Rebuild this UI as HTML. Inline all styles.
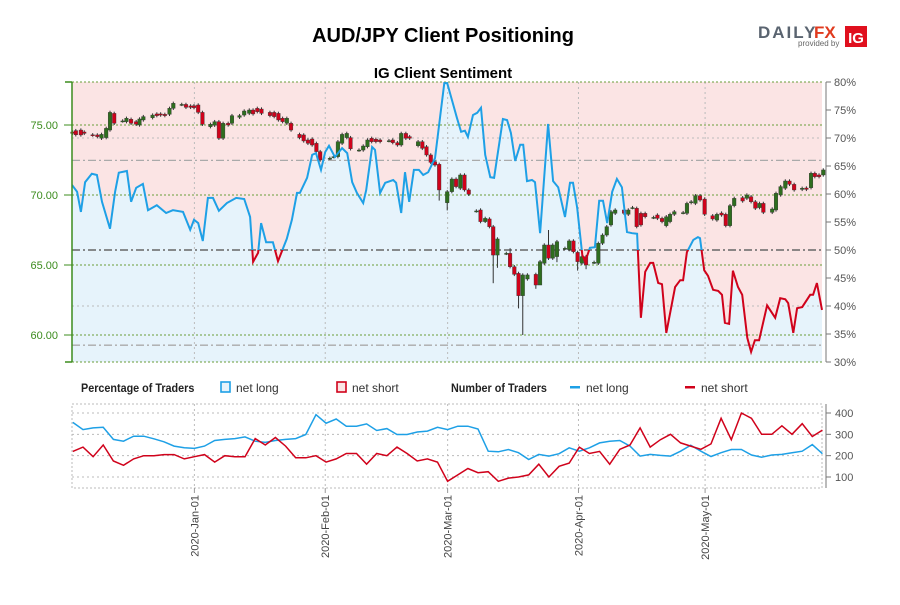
<!DOCTYPE html>
<html><head><meta charset="utf-8"><style>
body{margin:0;background:#fff;width:900px;height:600px;overflow:hidden;font-family:"Liberation Sans",sans-serif}
svg text{font-family:"Liberation Sans",sans-serif}
</style></head><body>
<svg id="c" width="900" height="600" xmlns="http://www.w3.org/2000/svg">
<text x="443" y="42" text-anchor="middle" font-size="20" font-weight="bold">AUD/JPY Client Positioning</text>
<text x="443" y="78" text-anchor="middle" font-size="15" font-weight="bold">IG Client Sentiment</text>
<g>
<text x="758" y="38" font-size="17" font-weight="bold" fill="#5a6470" letter-spacing="2">DAILY</text>
<text x="814" y="38" font-size="17" font-weight="bold" fill="#e03a1e">FX</text>
<text x="798" y="46" font-size="8" fill="#666">provided by</text>
<rect x="845" y="26" width="22" height="21" fill="#e0101e"/>
<text x="856" y="43" text-anchor="middle" font-size="15" font-weight="bold" fill="#fff">IG</text>
</g>
<g id="main"></g>
<g id="low"></g>
</svg>
<script>
// ---- data ----
const monthLabels=["2020-Jan-01","2020-Feb-01","2020-Mar-01","2020-Apr-01","2020-May-01"];
const monthDays=[29,60,89,120,150];
const sentDays=[0,1.2,2.1,3.1,4.7,5.9,7.1,9,10.2,11.1,13,14,15.2,16.8,18,20.1,22.3,23.9,26.3,28,28.9,29.9,31,32.2,33.4,34.8,36.7,38.9,40.8,42.2,42.9,44.1,44.8,46,47.6,48.8,50.9,52.1,53.3,54,55.7,56.9,57.8,59,60,60.9,62.3,64,65.2,66.4,67.5,69,69.7,71.1,71.8,73,74.2,76.1,76.8,78,78.9,79.9,81,82.2,83.2,84.4,86,87.2,88.2,88.9,90,91.2,92.2,93.1,93.8,95,96,96.9,97.9,99.1,100,102.1,103.1,104,105,106.2,106.9,107.8,109,109.7,110.9,112.8,114,115.2,116.8,118,118.7,119.7,120.9,121.6,122.7,123.9,124.9,125.8,126.8,128,129.1,130.3,131.5,132.7,133.9,134.8,135.8,137,137.7,138.9,139.8,140.8,142.9,144.1,144.8,145.7,147.2,148.3,148.8,149.8,150.7,151.9,153.1,154,154.7,155.7,156.6,157.8,158.8,160,160.9,161.8,162.8,164.7,166.6,167.8,169,169.7,170.9,171.8,173,174.9,175.6,176.5,177.7];
const sentLong=[61.6,60.4,56.8,62.1,63.6,63.4,58.6,53.8,60.4,63.8,64.1,58.6,61.1,61.8,57.1,58,56.6,57.1,56.8,53.6,55.4,54.8,51.6,59.3,59.3,57,58.4,59.3,59.1,55.9,47.9,49.5,54.8,51.4,51.4,48,52,55.4,60.2,60.2,62.9,67,67.3,64.3,67.5,68.6,66.6,68.2,67.3,62.1,60.2,58.4,60.7,68.4,67.9,60.2,62,62.5,62,56.6,63.9,58.6,64.3,64.3,63.4,63.9,66.4,73.6,79.8,79.8,76.8,73.6,71.1,71.3,70.2,74.1,74.5,75.4,67,63,62.9,73.4,73.2,70.9,65.9,68.8,68.8,62.3,62.5,62.1,53,72.5,62.3,61.2,55.9,62,62,57.5,49.1,47.9,50.4,50.5,58.8,58.8,54.8,60.4,62.7,61.2,53.2,53,52.9,37.9,46.1,47.7,47.7,44.1,43.9,35.2,43.4,44.6,44.6,49.6,51.8,52.3,52.1,46.4,45.4,42.9,42.7,42,37,36.8,46.3,43.4,42,34.3,31.8,33.9,33.9,40.1,37.9,41.4,41.2,40.5,35.2,39.6,39.8,42,42,44.1,39.3];
const candleDays=[0.1,0.9,2.1,2.9,4.9,6,7,8.1,9,10,12,12.9,14,15.2,16,16.9,19.1,20.1,21,22,23.1,24,26,27,28.1,28.9,29.9,30.9,32.8,33.8,34.8,35.8,37,37.9,39.7,40.8,42,42.9,43.9,44.9,46.9,47.9,48.9,49.9,50.9,51.9,53.9,54.9,55.9,56.9,57.9,58.8,61.1,62,63,64,65.1,66,68,69,70,71,72,73,75.1,76,77.1,78,79.1,80,82,83,84,85,86,87,88.9,90,91,92,93,94,95.8,96.8,97.9,98.9,99.8,100.8,102.9,103.8,104.8,105.8,106.8,107.9,109.9,110.9,111.9,112.9,113.9,114.9,116.8,117.8,118.8,119.8,120.8,121.8,123.7,124.7,125.7,126.7,127.7,128.7,130.8,131.8,132.8,133.8,134.8,135.8,137.8,138.7,139.8,140.8,141.7,142.7,144.8,145.7,146.7,147.7,148.8,149.9,151.8,152.8,153.9,154.9,155.9,156.9,158.9,159.9,160.9,161.9,162.9,163.8,165.9,166.8,167.9,169,170,171.1,173,174,175.1,176,177,178];
const candleOpen=[74.5,74.6,74.64,74.5,74.3,74.29,74.05,74.1,74.64,75.83,75.29,75.24,75.41,75.24,75,75.36,75.52,75.79,75.79,75.76,75.76,76.19,76.47,76.47,76.36,76.38,76.43,75.9,74.88,74.98,75.24,74.05,75.12,75.12,75.55,75.71,75.83,76.07,76.19,76.14,75.9,75.9,75.83,75.48,75.12,75.12,74.33,74.29,73.93,74,73.69,73.1,72.62,72.74,72.74,73.69,74.1,74.1,73.21,73.21,73.45,74.05,73.98,73.93,73.88,73.93,73.74,73.57,74.4,74.17,73.52,73.81,73.45,72.86,72.38,72.19,69.45,70.24,71.14,70.48,71.43,70.36,68.86,68.93,68.1,68.29,67.74,65.71,65.83,65.83,64.88,64.4,62.81,64,64.33,63.57,65.12,66.43,65.48,65.6,66.19,66.1,66.72,65.9,65.12,65.6,65.19,65.12,66.55,67.14,67.86,68.69,68.93,68.62,69.1,69.05,68.69,68.69,68.4,68.57,68.33,67.81,68.1,68.62,68.74,68.69,69.45,69.4,69.95,69.71,68.52,68.21,68.71,68.62,67.81,69.24,69.81,69.76,69.88,69.52,69.1,69.4,68.76,68.93,70,70.48,71,70.76,70.4,70.5,70.52,71.55,71.43,71.43];
const candleClose=[74.4,74.3,74.29,74.4,74.28,74.17,74.33,74.76,75.9,75.12,75.29,75.48,75.12,75.05,75.43,75.6,75.71,75.67,75.71,75.67,76.19,76.55,76.47,76.26,76.26,76.24,75.9,75.05,75.05,75.24,74.05,75.12,75,75.67,75.67,76,76.07,75.79,75.95,75.83,75.67,75.6,75.36,75.24,75.48,74.64,74.1,73.86,73.69,73.57,73.1,72.5,72.62,72.74,73.81,74.33,74.4,73.3,73.21,73.5,73.93,73.81,73.81,73.81,73.88,73.74,73.57,74.4,74.05,74.05,73.81,73.33,72.86,72.33,72.14,70.36,70.24,71.14,70.6,71.43,70.36,70.05,68.86,68.1,68.33,67.74,65.71,66.86,65.83,64.88,64.33,62.81,64.29,64.29,63.57,65.24,66.43,65.48,66.43,66.67,66.19,66.72,65.95,65.24,65.6,65,65.19,66.55,67.14,67.74,68.81,68.93,68.69,68.93,69.1,67.74,67.86,68.45,68.4,68.33,68.1,68.45,68.62,68.81,68.74,69.4,69.52,69.95,69.64,68.62,68.29,68.62,68.57,67.81,69.24,69.76,69.57,70,69.52,69.05,69.4,68.76,69,70.12,70.6,71,70.76,70.36,70.48,70.4,71.55,71.31,71.31,71.79];
const wickExtra=[[87,0,69.6],[88.9,0,68.9],[97.9,0,68.0],[99.8,0,63.7],[100.8,0,64.8],[103.8,66.2,0],[105.8,0,61.9],[106.8,0,60.0],[109.9,0,63.3],[110.9,0,64.8],[112.9,67.5,0],[114.9,0,65.2],[119.8,0,64.6],[121.8,0,64.7]];
const lowDays=[];for(let i=0;i<75;i++)lowDays.push(0.2+i*2.4);
const tradersLong=[356,322,330,333,276,268,291,291,279,265,245,237,234,245,271,276,280,288,268,262,271,276,280,299,392,352,372,338,338,349,318,327,299,299,311,315,333,322,338,338,325,221,218,229,214,182,206,198,209,237,221,237,260,268,271,245,198,206,201,198,221,249,221,196,214,229,229,203,193,203,206,214,221,252,209];
const tradersShort=[220,240,195,250,175,155,185,200,200,205,205,185,195,205,170,200,195,195,280,250,285,245,190,190,200,170,185,210,210,160,210,200,240,210,175,185,170,80,110,140,120,125,80,95,100,110,160,100,150,165,240,210,220,160,230,250,330,240,275,300,260,245,230,255,375,275,400,375,300,300,340,300,350,290,320];
const priceTicks=[75,70,65,60];
const pctTicks=[80,75,70,65,60,55,50,45,40,35,30];
const lowTicks=[400,300,200,100];

// ---- scales ----
const X0=72,X1=822,Y0=82,Y1=362,DAYMAX=177.7;
const xs=d=>X0+d*(X1-X0)/DAYMAX;
const yp=v=>Y0+(80-v)*(Y1-Y0)/50;
const ypr=v=>125+(75-v)*14;
const LY0=404,LY1=488;
const yl=v=>413+(400-v)*0.2133;
const NS="http://www.w3.org/2000/svg";
function mk(p,t,a){const e=document.createElementNS(NS,t);for(const k in a)e.setAttribute(k,a[k]);p.appendChild(e);return e;}
const svg=document.getElementById('c');
const main=document.getElementById('main'),low=document.getElementById('low');
const defs=mk(svg,'defs',{});
const c1=mk(defs,'clipPath',{id:'above'});mk(c1,'rect',{x:X0,y:Y0-5,width:X1-X0+2,height:yp(50)-Y0+5});
const c2=mk(defs,'clipPath',{id:'below'});mk(c2,'rect',{x:X0,y:yp(50),width:X1-X0+2,height:Y1-yp(50)+5});

// backgrounds
let bg=mk(main,'rect',{x:X0,y:Y0,width:X1-X0,height:Y1-Y0,fill:'#fbe4e4'});

let pts=sentDays.map((d,i)=>xs(d).toFixed(1)+','+yp(sentLong[i]).toFixed(1));
let area=mk(main,'polygon',{points:xs(sentDays[0])+','+Y1+' '+pts.join(' ')+' '+xs(sentDays[sentDays.length-1])+','+Y1,fill:'#e6f3fb'});


// grids
monthDays.forEach(d=>{let l=mk(main,'line',{x1:xs(d),x2:xs(d),y1:Y0,y2:Y1,stroke:'#bbb','stroke-dasharray':'2,3'});
});
[70,40].forEach(v=>{let l=mk(main,'line',{x1:X0,x2:X1,y1:yp(v),y2:yp(v),stroke:'#bbb','stroke-dasharray':'2,3'});
});
priceTicks.forEach(v=>{let l=mk(main,'line',{x1:X0,x2:X1,y1:ypr(v),y2:ypr(v),stroke:'#6a9e3a','stroke-dasharray':'2,2'});
});
let tb=mk(main,'line',{x1:X0,x2:X1,y1:Y0,y2:Y0,stroke:'#6a9e3a','stroke-dasharray':'2,2'});

let bb=mk(main,'line',{x1:X0,x2:X1,y1:Y1,y2:Y1,stroke:'#6a9e3a','stroke-dasharray':'2,2'});

[[66,'#aaa',1.3],[33,'#aaa',1.3],[50,'#666',1.6]].forEach(a=>{let l=mk(main,'line',{x1:X0,x2:X1,y1:yp(a[0]),y2:yp(a[0]),stroke:a[1],'stroke-width':a[2],'stroke-dasharray':'8,3,2,3'});
});

// candles
candleDays.forEach((d,i)=>{const o=candleOpen[i],c=candleClose[i];const up=c>=o;
 let hi=Math.max(o,c)+0.12,lo=Math.min(o,c)-0.12;
 wickExtra.forEach(w=>{if(Math.abs(w[0]-d)<0.05){if(w[1])hi=w[1];if(w[2])lo=w[2];}});
 const x=xs(d);
 let g=mk(main,'g',{});
 
 mk(g,'line',{x1:x,x2:x,y1:ypr(hi),y2:ypr(lo),stroke:'#333','stroke-width':1});
 const t=ypr(Math.max(o,c)),b=ypr(Math.min(o,c));
 mk(g,'rect',{x:x-1.8,y:t,width:3.6,height:Math.max(1,b-t),fill:up?'#2e6e1e':'#d0021b',stroke:'#333','stroke-width':0.4});
});

// sentiment line
let ln1=mk(main,'polyline',{points:pts.join(' '),fill:'none',stroke:'#1ea0e6','stroke-width':2,'clip-path':'url(#above)'});

let ln2=mk(main,'polyline',{points:pts.join(' '),fill:'none',stroke:'#d0021b','stroke-width':2,'clip-path':'url(#below)'});


// left axis
let la=mk(main,'line',{x1:72,x2:72,y1:Y0,y2:Y1,stroke:'#3c8c1e','stroke-width':1.5});

mk(main,'line',{x1:65,x2:72,y1:Y0,y2:Y0,stroke:'#3c8c1e','stroke-width':1.5});
mk(main,'line',{x1:65,x2:72,y1:Y1,y2:Y1,stroke:'#3c8c1e','stroke-width':1.5});
priceTicks.forEach(v=>{mk(main,'line',{x1:64,x2:72,y1:ypr(v),y2:ypr(v),stroke:'#3c8c1e'});
 let t=mk(main,'text',{x:58,y:ypr(v)+4,'text-anchor':'end','font-size':11,fill:'#3c8c1e'});t.textContent=v.toFixed(2);
 });
// right axis
let ra=mk(main,'line',{x1:826,x2:826,y1:Y0,y2:Y1,stroke:'#777'});

pctTicks.forEach(v=>{mk(main,'line',{x1:826,x2:831,y1:yp(v),y2:yp(v),stroke:'#777'});
 let t=mk(main,'text',{x:834,y:yp(v)+4,'font-size':11,fill:'#555'});t.textContent=v+'%';
 });

// legend
const leg=[[81,'Percentage of Traders','b'],[220,'net long','sq','#1ea0e6','#e6f3fb'],[336,'net short','sq','#d0021b','#fbe4e4'],[451,'Number of Traders','b'],[570,'net long','ln','#1ea0e6'],[685,'net short','ln','#d0021b']];
leg.forEach(l=>{let g=mk(svg,'g',{});
 
 if(l[2]=='b'){let t=mk(g,'text',{x:l[0],y:392,'font-size':12,'font-weight':'bold',fill:'#222',transform:'scale(0.9,1)','transform-origin':l[0]+' 392'});t.textContent=l[1];}
 else{ if(l[2]=='sq')mk(g,'rect',{x:l[0]+1,y:382,width:9,height:10,fill:l[4],stroke:l[3],'stroke-width':1.6});
  else mk(g,'rect',{x:l[0],y:386,width:10,height:2.5,fill:l[3]});
  let t=mk(g,'text',{x:l[0]+16,y:392,'font-size':12,fill:'#333'});t.textContent=l[1];}
});

// lower panel
let lb=mk(low,'rect',{x:X0,y:LY0,width:X1-X0,height:LY1-LY0,fill:'none',stroke:'#bbb','stroke-dasharray':'2,2'});

lowTicks.forEach(v=>{let l=mk(low,'line',{x1:X0,x2:X1,y1:yl(v),y2:yl(v),stroke:'#bbb','stroke-dasharray':'2,3'});
 
 mk(low,'line',{x1:826,x2:831,y1:yl(v),y2:yl(v),stroke:'#777'});
 let t=mk(low,'text',{x:835,y:yl(v)+4,'font-size':11,fill:'#555'});t.textContent=v;
 });
let rl=mk(low,'line',{x1:826,x2:826,y1:LY0,y2:LY1,stroke:'#777'});

monthDays.forEach((d,i)=>{let l=mk(low,'line',{x1:xs(d),x2:xs(d),y1:LY0,y2:LY1,stroke:'#bbb','stroke-dasharray':'2,3'});
 
 mk(low,'line',{x1:xs(d),x2:xs(d),y1:LY1,y2:LY1+5,stroke:'#999'});
 let t=mk(low,'text',{x:xs(d)+4,y:495,'font-size':11,fill:'#444','text-anchor':'end',transform:'rotate(-90 '+(xs(d)+4)+' 495)'});t.textContent=monthLabels[i];
 });
let pl=mk(low,'polyline',{points:lowDays.map((d,i)=>xs(d).toFixed(1)+','+yl(tradersLong[i]).toFixed(1)).join(' '),fill:'none',stroke:'#1ea0e6','stroke-width':1.5});

let ps=mk(low,'polyline',{points:lowDays.map((d,i)=>xs(d).toFixed(1)+','+yl(tradersShort[i]).toFixed(1)).join(' '),fill:'none',stroke:'#d0021b','stroke-width':1.5});

</script>
</body></html>
